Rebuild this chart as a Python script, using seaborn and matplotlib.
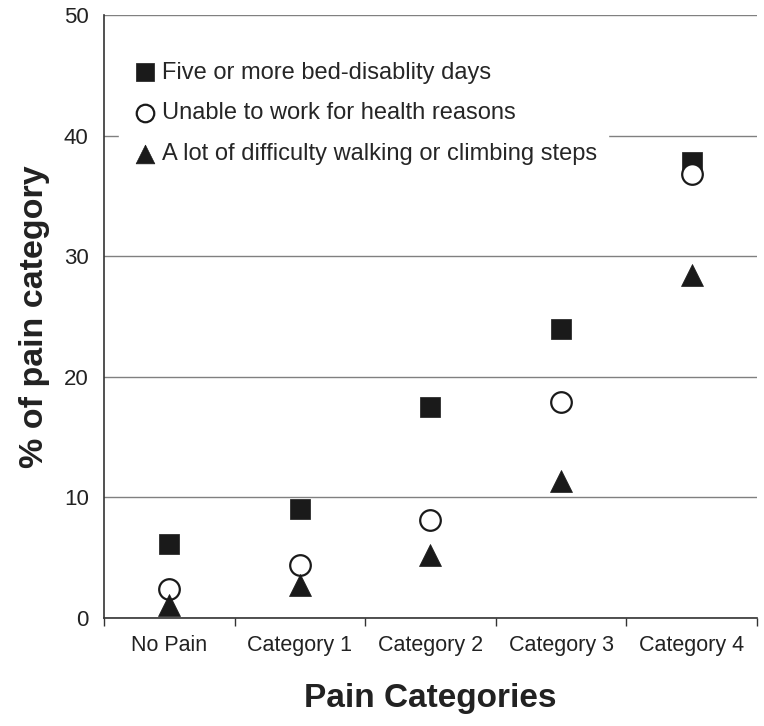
import numpy as np
import seaborn as sns
import matplotlib.pyplot as plt
import pandas as pd

categories = ["No Pain", "Category 1", "Category 2", "Category 3", "Category 4"]
bed_days = [6.1, 9.0, 17.5, 24.0, 37.8]
unable_work = [2.4, 4.4, 8.1, 17.9, 36.8]
difficulty_walk = [1.1, 2.7, 5.2, 11.4, 28.4]

labels = ["Five or more bed-disablity days",
          "Unable to work for health reasons",
          "A lot of difficulty walking or climbing steps"]

sns.set_theme(style="white")
plt.rcParams['font.family'] = ['Liberation Sans', 'DejaVu Sans']

df = pd.DataFrame({"pos": np.arange(len(categories)),
                   "category": categories,
                   "bed": bed_days,
                   "work": unable_work,
                   "walk": difficulty_walk})

fig = plt.figure(figsize=(7.64, 7.26), dpi=100)
ax = fig.add_axes([0.1361, 0.1488, 0.8547, 0.8305])

ax.set_axisbelow(True)
ax.yaxis.grid(True, color='#808080', linewidth=1.0)

sns.scatterplot(data=df, x="pos", y="bed", ax=ax, marker="s", s=220,
                color="#1a1a1a", edgecolor="#1a1a1a", linewidth=0.5,
                label=labels[0], zorder=3)
sns.scatterplot(data=df, x="pos", y="work", ax=ax, marker="o", s=220,
                facecolor="white", edgecolor="#1a1a1a", linewidth=1.6,
                label=labels[1], zorder=3)
sns.scatterplot(data=df, x="pos", y="walk", ax=ax, marker="^", s=250,
                color="#1a1a1a", edgecolor="#1a1a1a", linewidth=0.5,
                label=labels[2], zorder=3)

ax.set_xlim(-0.5, len(categories) - 0.5)
ax.set_ylim(0, 50)
ax.set_yticks(np.arange(0, 51, 10))
ax.set_xticks(np.arange(-0.5, len(categories), 1.0))
ax.set_xticklabels([])
ax.set_xticks(np.arange(len(categories)), minor=True)
ax.set_xticklabels(categories, minor=True)

ax.tick_params(axis='y', which='major', direction='inout', length=10, width=1,
               color='#333333', labelsize=16, labelcolor='#222222', pad=6)
ax.tick_params(axis='x', which='major', direction='out', length=6, width=1,
               color='#333333', bottom=True)
ax.tick_params(axis='x', which='minor', length=0, labelsize=15.5,
               labelcolor='#222222', pad=12)

sns.despine(ax=ax)
for side in ['left', 'bottom']:
    ax.spines[side].set_color('#333333')
    ax.spines[side].set_linewidth(1.2)

ax.set_xlabel('Pain Categories', fontsize=24, fontweight='bold', labelpad=20,
              color='#222222')
ax.set_ylabel('% of pain category', fontsize=24.5, fontweight='bold', labelpad=10,
              color='#222222')

ax.legend(loc='upper left', bbox_to_anchor=(0.005, 0.962), fontsize=17,
          frameon=True, facecolor='white', edgecolor='white', framealpha=1,
          fancybox=False, handletextpad=0.1, labelspacing=0.8,
          borderpad=0.5, markerscale=0.85, handlelength=1.2)

plt.savefig("out.png", dpi=100)
